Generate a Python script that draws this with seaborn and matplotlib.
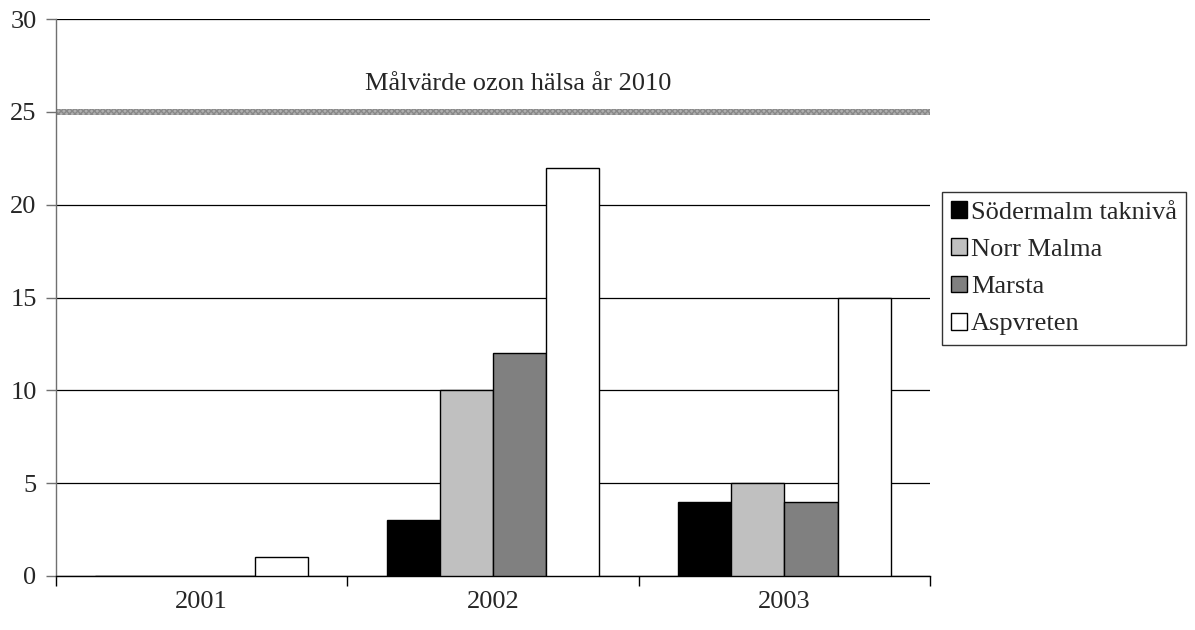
import matplotlib
matplotlib.use("Agg")
import matplotlib.pyplot as plt
from matplotlib.patches import Patch
import seaborn as sns
import pandas as pd

years = ["2001", "2002", "2003"]
stations = ["Södermalm taknivå", "Norr Malma", "Marsta", "Aspvreten"]
sodermalm = [0, 3, 4]
norr_malma = [0, 10, 5]
marsta = [0, 12, 4]
aspvreten = [1, 22, 15]
target_value = 25
target_label = "Målvärde ozon hälsa år 2010"
colors = ["#000000", "#c0c0c0", "#808080", "#ffffff"]

rows = []
for name, vals in zip(stations, [sodermalm, norr_malma, marsta, aspvreten]):
    for y, v in zip(years, vals):
        rows.append({"År": y, "Station": name, "Värde": v})
df = pd.DataFrame(rows)

sns.set_theme(style="white")
plt.rcParams["font.family"] = ["Liberation Serif", "DejaVu Serif"]
FS = 19

fig = plt.figure(figsize=(11.95, 6.3), dpi=100)
ax = fig.add_axes([56 / 1195, 54 / 630, 874 / 1195, 557 / 630])

sns.barplot(data=df, x="År", y="Värde", hue="Station", hue_order=stations,
            palette=colors, width=0.73, gap=0, edgecolor="black",
            linewidth=1.0, legend=False, ax=ax, zorder=3)

ax.set_ylim(0, 30)
ax.set_xlim(-0.5, 2.5)
ax.set_yticks(range(0, 31, 5))
ax.yaxis.grid(True, color="black", linewidth=0.9, zorder=0)
ax.set_axisbelow(True)
ax.set_xlabel("")
ax.set_ylabel("")

for s in ["top", "right"]:
    ax.spines[s].set_visible(False)
ax.spines["left"].set_color("#707070")
ax.spines["bottom"].set_color("black")
ax.spines["left"].set_linewidth(1.0)
ax.spines["bottom"].set_linewidth(1.0)

ax.tick_params(axis="y", which="major", length=7, width=1.0, color="#707070",
               pad=7, labelsize=FS, left=True)
ax.set_xticks([-0.5, 0.5, 1.5, 2.5], minor=True)
ax.tick_params(axis="x", which="major", length=0, pad=11, labelsize=FS)
ax.tick_params(axis="x", which="minor", length=7, width=1.0, color="black",
               bottom=True, direction="out")

# target band at 25
ax.axhspan(target_value - 0.17, target_value + 0.17, facecolor="#b0b0b0",
           edgecolor="#888888", hatch="xxxxxx", linewidth=0.0, zorder=2)
ax.text(1.085, 26.17, target_label, ha="center", va="baseline", fontsize=FS)

handles = [Patch(facecolor=c, edgecolor="black", linewidth=1.0) for c in colors]
leg = fig.legend(handles, stations, loc="upper left",
                 bbox_to_anchor=(942 / 1195, 1 - 192 / 630),
                 frameon=True, fancybox=False, edgecolor="black",
                 handlelength=0.6, handleheight=0.6, handletextpad=0.15,
                 labelspacing=0.55, borderpad=0.35, borderaxespad=0.0,
                 fontsize=FS)
leg.get_frame().set_linewidth(1.0)

fig.savefig("out.png", dpi=100, facecolor="white")
